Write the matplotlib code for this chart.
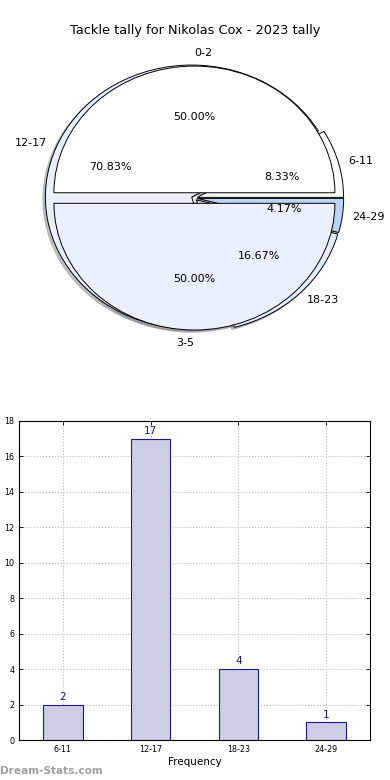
import matplotlib
matplotlib.use("Agg")
import matplotlib.pyplot as plt

title = "Tackle tally for Nikolas Cox - 2023 tally"
outer_labels = ["6-11", "12-17", "18-23", "24-29"]
outer_values = [2, 17, 4, 1]
outer_colors = ["#ffffff", "#e9effb", "#e4ecfb", "#b9d4f7"]
inner_labels = ["0-2", "3-5"]
inner_values = [1, 1]
inner_colors = ["#ffffff", "#eaf0fd"]

bar_labels = ["6-11", "12-17", "18-23", "24-29"]
bar_values = [2, 17, 4, 1]

fig = plt.figure(figsize=(3.9, 7.8), dpi=100)

shadow = dict(ox=-0.012, oy=-0.012, shade=0.45)

# Pie axes
axp = fig.add_axes([0.0295, 0.5346, 0.938, 0.423])
axp.pie(outer_values, labels=outer_labels, colors=outer_colors, autopct="%.2f%%",
        shadow=shadow, startangle=0, explode=[0.02] * 4, counterclock=True,
        labeldistance=1.07,
        wedgeprops=dict(edgecolor="black", linewidth=0.7),
        textprops=dict(fontsize=8))
_, inner_texts, _ = axp.pie(inner_values, labels=inner_labels, colors=inner_colors, autopct="%.2f%%",
        shadow=shadow, startangle=0, explode=[0.04, 0.04], radius=0.96,
        wedgeprops=dict(edgecolor="black", linewidth=0.7),
        textprops=dict(fontsize=8))
inner_texts[0].set_ha("left")
inner_texts[1].set_ha("right")
axp.set_aspect("auto")
axp.set_xlim(-1.25, 1.25)
axp.set_ylim(-1.25, 1.25)
axp.axis("off")
fig.text(0.5, 0.961, title, ha="center", va="center", fontsize=9.3)

# Bar axes
axb = fig.add_axes([19 / 390, 40 / 780, 351 / 390, 319 / 780])
x = list(range(len(bar_labels)))
axb.bar(x, bar_values, width=0.45, color="#cdcde5", edgecolor="#1a1a80", linewidth=0.8, zorder=3)
for xi, v in zip(x, bar_values):
    axb.text(xi, v + 0.15, str(v), ha="center", va="bottom", color="#1a1a80", fontsize=7.5, zorder=4)
axb.set_xlim(-0.5, 3.5)
axb.set_ylim(0, 18)
axb.set_xticks(x)
axb.set_xticklabels(bar_labels, fontsize=5.8)
axb.set_yticks(range(0, 19, 2))
axb.tick_params(axis="y", labelsize=5.8)
axb.tick_params(direction="in", length=3, top=True, right=True, width=0.6)
axb.grid(True, linestyle=":", color="#bbbbbb", linewidth=0.8, zorder=0)
axb.set_xlabel("Frequency", fontsize=7.5, labelpad=2)
axb.set_ylabel("Distribution", fontsize=7.5, labelpad=10)
for s in axb.spines.values():
    s.set_linewidth(0.8)

fig.text(0.0, 0.012, "Dream-Stats.com", fontsize=7.6, color="#a0a0a0", ha="left", va="center",
         fontweight="bold")

fig.savefig("out.png", dpi=100)
